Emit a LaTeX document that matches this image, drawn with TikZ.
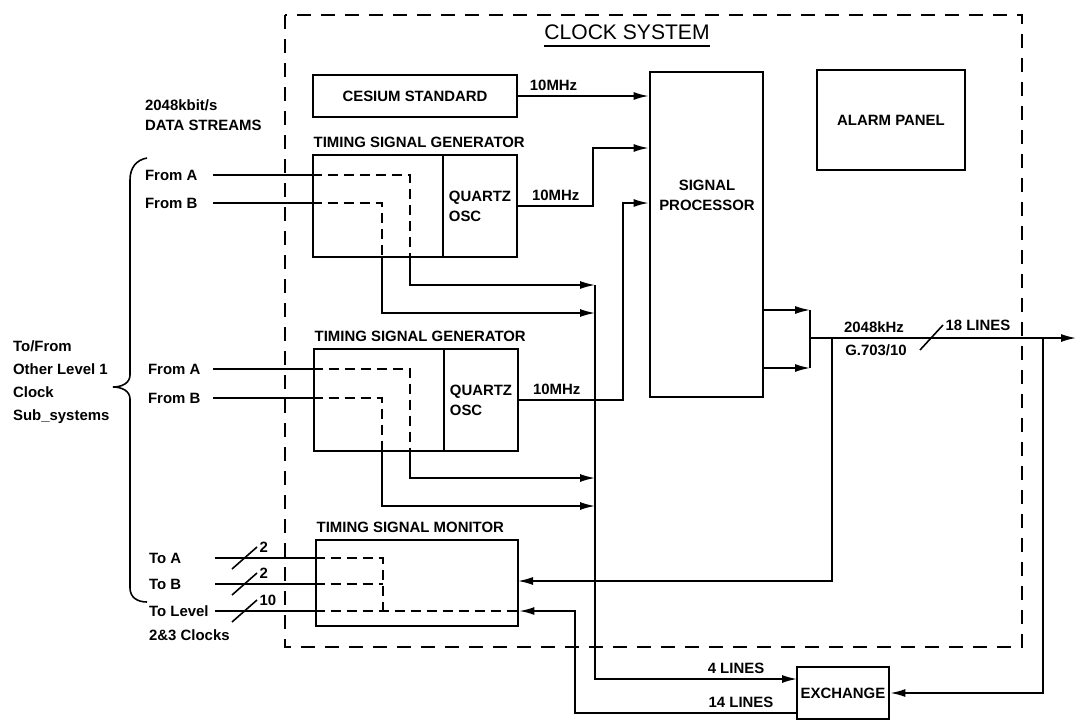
\documentclass[tikz,border=0pt]{standalone}
\usepackage{fontspec}
\setmainfont{Liberation Sans}
\usepackage{tikz}
\usetikzlibrary{positioning,arrows.meta}

\begin{document}
\begin{tikzpicture}[x=0.2mm,y=-0.2mm,
		blk/.style={draw,line width=1.6pt,inner sep=0pt,font=\bfseries\fontsize{8.5}{11.5}\selectfont},
		sig/.style={line width=0.9pt},
		arr/.style={line width=0.9pt,-{Latex[length=3mm,width=1.6mm]}},
		dsh/.style={line width=0.9pt,dash pattern=on 2mm off 1.2mm},
		bnd/.style={line width=1.1pt,dash pattern=on 2.8mm off 2mm},
		lbl/.style={font=\bfseries\fontsize{8.5}{11.5}\selectfont,inner sep=1pt}]
		\useasboundingbox (0,0) rectangle (1078,721);
		%Clock system boundary
		\draw[bnd] (285,15) rectangle (1022,647);
		\node[inner sep=0pt,font=\fontsize{12}{14}\selectfont] (title) at (627,32) {CLOCK SYSTEM};
		\draw[sig] ([yshift=-1.2mm]title.south west) -- ([yshift=-1.2mm]title.south east);
		%Blocks
		\node[blk,minimum width=40.8mm,minimum height=8.4mm] (cs) at (415,96) {CESIUM STANDARD};
		\node[blk,minimum width=22.6mm,minimum height=65mm] (sp) at (706.5,234.5) {};
		\node[lbl,align=center] (sptxt) at (707,195) {SIGNAL\\PROCESSOR};
		\node[blk,minimum width=29.6mm,minimum height=20mm] (alarm) at (891,120) {ALARM PANEL};
		\node[blk,minimum width=26mm,minimum height=20.4mm] (tsg1) at (378,206) {};
		\node[blk,minimum width=14.8mm,minimum height=20.4mm,align=left] (qz1) at (480,206) {QUARTZ\\OSC};
		\node[lbl,above right=0.8mm and 0mm of tsg1.north west] (tsg1t) {TIMING SIGNAL GENERATOR};
		\node[blk,minimum width=26mm,minimum height=20.4mm] (tsg2) at (379,400) {};
		\node[blk,minimum width=14.8mm,minimum height=20.4mm,align=left] (qz2) at (481,400) {QUARTZ\\OSC};
		\node[lbl,above right=0.8mm and 0mm of tsg2.north west] (tsg2t) {TIMING SIGNAL GENERATOR};
		\node[blk,minimum width=40.4mm,minimum height=17.2mm] (tsm) at (417,583) {};
		\node[lbl,above right=0.8mm and 0mm of tsm.north west] (tsmt) {TIMING SIGNAL MONITOR};
		\node[blk,minimum width=18.4mm,minimum height=10.4mm] (exch) at (843,693) {EXCHANGE};
		%Left hand labels
		\node[lbl,align=left,anchor=west] (rate) at (143,115) {2048kbit/s\\DATA STREAMS};
		\node[lbl,anchor=west] (fa1) at (143,175) {From A};
		\node[lbl,anchor=west] (fb1) at (143,203) {From B};
		\node[lbl,anchor=west] (fa2) at (146,369) {From A};
		\node[lbl,anchor=west] (fb2) at (146,398) {From B};
		\node[lbl,anchor=west] (ta) at (147,558) {To A};
		\node[lbl,anchor=west] (tb) at (147,584) {To B};
		\node[lbl,anchor=west] (tl) at (147,611) {To Level};
		\node[lbl,anchor=west] (tl2) at (147,635) {2\&3 Clocks};
		\node[lbl,align=left,anchor=west,font=\bfseries\fontsize{8.5}{13}\selectfont] (ext) at (11,382) {To/From\\Other Level 1\\Clock\\Sub\_systems};
		\draw[sig] (147,158) .. controls (136,160) and (130,168) .. (130,180) -- (130,375) .. controls (130,383) and (122,387) .. (113,387) .. controls (122,387) and (130,391) .. (130,399) -- (130,588) .. controls (130,597) and (137,602) .. (147,602);
		%Line ends and bends
		\coordinate (sa1) at (213,175);
		\coordinate (sb1) at (213,203);
		\coordinate (sa2) at (213,369);
		\coordinate (sb2) at (213,398);
		\coordinate (sta) at (215,558);
		\coordinate (stb) at (215,584);
		\coordinate (stl) at (215,611);
		\coordinate (ga1) at (410,175);
		\coordinate (gb1) at (382,203);
		\coordinate (ga2) at (410,369);
		\coordinate (gb2) at (382,398);
		\coordinate (mj) at (383,611);
		\coordinate (in1) at (595,285);
		\coordinate (in2) at (595,313);
		\coordinate (in3) at (595,478);
		\coordinate (in4) at (595,506);
		\coordinate (e4) at (797,679);
		\coordinate (e14) at (797,713);
		\coordinate (k1) at (593,148);
		\coordinate (k2) at (623,203);
		\coordinate (k3) at (575,713);
		\coordinate (m1) at (810,310);
		\coordinate (m2) at (810,368);
		\coordinate (mo) at (810,338);
		\coordinate (out) at (1076,338);
		\coordinate (b1) at (832,338);
		\coordinate (b2) at (1043,338);
		\coordinate (tm1) at (518,581);
		%10MHz references
		\draw[arr] (cs.east) -- node[lbl,above=0.6mm,pos=0.27] (f1) {10MHz} (cs.east -| sp.west);
		\draw[arr] (qz1.east) -| node[lbl,above=0.6mm,pos=0.25] (f2) {10MHz} (k1) -- (k1 -| sp.west);
		\draw[arr] (qz2.east) -| node[lbl,above=0.6mm,pos=0.18] (f3) {10MHz} (k2) -- (k2 -| sp.west);
		%Data streams through the generators
		\draw[sig] (sa1) -- (sa1 -| tsg1.west);
		\draw[dsh] (sa1 -| tsg1.west) -| (ga1 |- tsg1.south);
		\draw[arr] (ga1 |- tsg1.south) |- (in1);
		\draw[sig] (sb1) -- (sb1 -| tsg1.west);
		\draw[dsh] (sb1 -| tsg1.west) -| (gb1 |- tsg1.south);
		\draw[arr] (gb1 |- tsg1.south) |- (in2);
		\draw[sig] (sa2) -- (sa2 -| tsg2.west);
		\draw[dsh] (sa2 -| tsg2.west) -| (ga2 |- tsg2.south);
		\draw[arr] (ga2 |- tsg2.south) |- (in3);
		\draw[sig] (sb2) -- (sb2 -| tsg2.west);
		\draw[dsh] (sb2 -| tsg2.west) -| (gb2 |- tsg2.south);
		\draw[arr] (gb2 |- tsg2.south) |- (in4);
		\draw[arr] (in1) |- (e4);
		\node[lbl] (l4) at (736,668) {4 LINES};
		%Monitor outputs
		\draw[sig] (sta) -- (sta -| tsm.west);
		\draw[dsh] (sta -| tsm.west) -| (mj);
		\draw[sig] (stb) -- (stb -| tsm.west);
		\draw[dsh] (stb -| tsm.west) -- (stb -| mj);
		\draw[sig] (stl) -- (stl -| tsm.west);
		\draw[dsh] (stl -| tsm.west) -- (stl -| tsm.east);
		\draw[sig] (232,569) -- (257,547) node[lbl,anchor=west] (n2a) {2};
		\draw[sig] (232,595) -- (257,573) node[lbl,anchor=west] (n2b) {2};
		\draw[sig] (232,622) -- (257,600) node[lbl,anchor=west] (n10) {10};
		%Signal processor outputs
		\draw[arr] (m1 -| sp.east) -- (m1);
		\draw[arr] (m2 -| sp.east) -- (m2);
		\draw[sig] (m1) -- (m2);
		\draw[arr] (mo) -- (out);
		\node[lbl] (fr) at (874,327) {2048kHz};
		\node[lbl] (g703) at (876,350) {G.703/10};
		\draw[sig] (920,350) -- (943,325) node[lbl,anchor=west] (n18) {18 LINES};
		\draw[arr] (b1) |- (tm1);
		\draw[arr] (b2) |- (exch.east);
		%Exchange return
		\draw[arr] (e14) -- (k3) |- (stl -| tsm.east);
		\node[lbl] (l14) at (741,702) {14 LINES};
\end{tikzpicture}
\end{document}
